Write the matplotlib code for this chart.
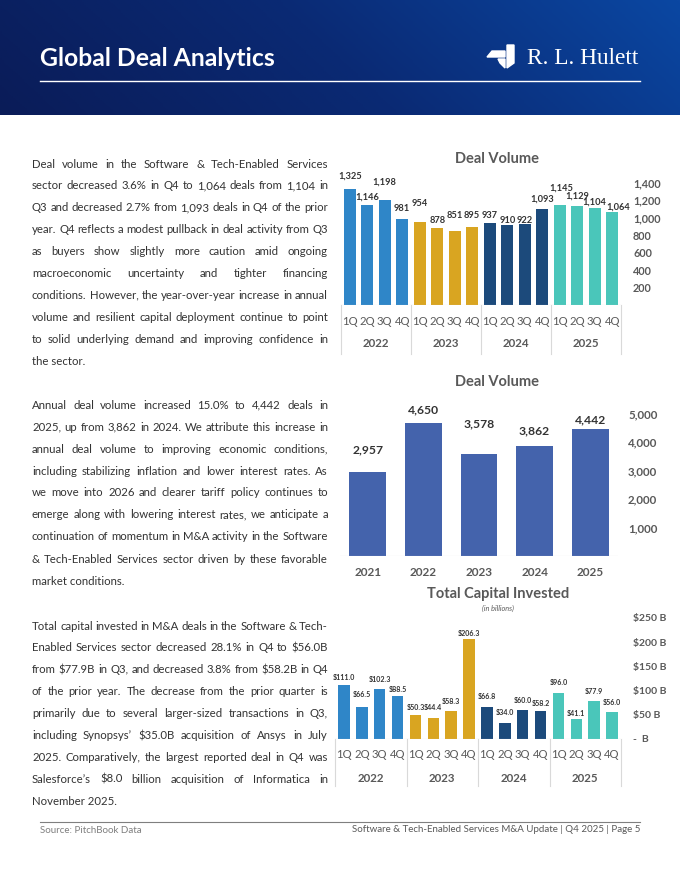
import numpy as np
import matplotlib
matplotlib.use("Agg")
import matplotlib.pyplot as plt
from matplotlib.patches import Polygon
from matplotlib.colors import LinearSegmentedColormap

plt.rcParams["font.family"] = ["Lato", "DejaVu Sans"]

W, H = 680, 880

# === data ===
years = ["2022", "2023", "2024", "2025"]
quarters = ["1Q", "2Q", "3Q", "4Q"]
quarterly_volume = [1325, 1146, 1198, 981, 954, 878, 851, 895,
                    937, 910, 922, 1093, 1145, 1129, 1104, 1064]
annual_years = ["2021", "2022", "2023", "2024", "2025"]
annual_volume = [2957, 4650, 3578, 3862, 4442]
quarterly_capital = [111.0, 66.5, 102.3, 88.5, 50.3, 44.4, 58.3, 206.3,
                     66.8, 34.0, 60.0, 58.2, 96.0, 41.1, 77.9, 56.0]

year_colors = ["#2F86C8", "#D9A521", "#1C4A7B", "#4AC6BA"]
annual_color = "#4463AC"

# label lift above bar top (px), as placed in the source
vol_lift = [13, 8, 18, 11, 18, 8, 15, 11, 8, 5, 4, 10, 17, 10, 6, 5]
vol_shift = [0, 0, 0, 0, 0, 0, 0, 0, 0, 0, 0, 0, 2, 0, 0, 6]
annual_lift = [22, 14, 30, 15, 10]
cap_lift = [8, 12, 10, 7, 7, 10, 9, 6, 10, 10, 9, 7, 10, 6, 10, 9]

para1 = [
    "Deal volume in the Software & Tech-Enabled Services",
    "sector decreased 3.6% in Q4 to 1,064 deals from 1,104 in",
    "Q3 and decreased 2.7% from 1,093 deals in Q4 of the prior",
    "year. Q4 reflects a modest pullback in deal activity from Q3",
    "as buyers show slightly more caution amid ongoing",
    "macroeconomic uncertainty and tighter financing",
    "conditions. However, the year-over-year increase in annual",
    "volume and resilient capital deployment continue to point",
    "to solid underlying demand and improving confidence in",
    "the sector.",
]
para2 = [
    "Annual deal volume increased 15.0% to 4,442 deals in",
    "2025, up from 3,862 in 2024. We attribute this increase in",
    "annual deal volume to improving economic conditions,",
    "including stabilizing inflation and lower interest rates. As",
    "we move into 2026 and clearer tariff policy continues to",
    "emerge along with lowering interest rates, we anticipate a",
    "continuation of momentum in M&A activity in the Software",
    "& Tech-Enabled Services sector driven by these favorable",
    "market conditions.",
]
para3 = [
    "Total capital invested in M&A deals in the Software & Tech-",
    "Enabled Services sector decreased 28.1% in Q4 to $56.0B",
    "from $77.9B in Q3, and decreased 3.8% from $58.2B in Q4",
    "of the prior year. The decrease from the prior quarter is",
    "primarily due to several larger-sized transactions in Q3,",
    "including Synopsys’ $35.0B acquisition of Ansys in July",
    "2025. Comparatively, the largest reported deal in Q4 was",
    "Salesforce’s $8.0 billion acquisition of Informatica in",
    "November 2025.",
]

TXT = "#333333"
GREY = "#595959"
LINE = "#D9D9D9"

fig = plt.figure(figsize=(W / 100, H / 100), dpi=100)
fig.patch.set_facecolor("white")


def ftext(x, y, s, **kw):
    return fig.text(x / W, 1 - y / H, s, parse_math=False, **kw)


def px_axes(left, top, right, bottom):
    return fig.add_axes([left / W, 1 - bottom / H, (right - left) / W, (bottom - top) / H])


def fline(x0, x1, y, **kw):
    fig.add_artist(plt.Line2D([x0 / W, x1 / W], [1 - y / H, 1 - y / H], **kw))


# === header ===
hdr = fig.add_axes([0, 1 - 115 / H, 1, 115 / H])
gx = np.linspace(0, 1, 300)
gy = np.linspace(0, 1, 60)
grad = gx[None, :] * 0.85 + gy[:, None] * 0.15
cmap = LinearSegmentedColormap.from_list("hdr", ["#0A1C58", "#0A2A74", "#0B47A2"])
hdr.imshow(grad, aspect="auto", cmap=cmap, extent=[0, 1, 0, 1], origin="lower")
hdr.axis("off")

ftext(40, 58, "Global Deal Analytics", fontsize=17.8, fontweight="bold",
      color="white", va="center", ha="left")
fline(40, 640, 81, color="white", lw=1.0)

# logo mark
for pts in [
    [(507, 45), (514, 45), (514, 63), (507, 68)],
    [(487, 57), (492, 51), (505, 51), (505, 57)],
    [(498, 59), (505, 59), (505, 68), (500, 63)],
]:
    fig.add_artist(Polygon([(px / W, 1 - py / H) for px, py in pts],
                           closed=True, color="white", transform=fig.transFigure))
ftext(527, 58, "R. L. Hulett", family=["Liberation Serif", "DejaVu Serif"],
      fontsize=16.8, color="white", va="center", ha="left")


# === body text ===
def justify(lines, x0, x1, y0, step):
    r = fig.canvas.get_renderer()
    for i, line in enumerate(lines):
        y = y0 + i * step
        if i == len(lines) - 1:
            ftext(x0, y, line, fontsize=8.2, color=TXT, va="center", ha="left")
            continue
        words = line.split(" ")
        objs = [ftext(0, y, w, fontsize=8.2, color=TXT, va="center", ha="left") for w in words]
        widths = [o.get_window_extent(r).width for o in objs]
        gap = (x1 - x0 - sum(widths)) / (len(words) - 1)
        xx = x0
        for o, w in zip(objs, widths):
            o.set_x(xx / W)
            xx += w + gap


justify(para1, 32, 328, 164, 21.9)
justify(para2, 32, 328, 405, 22.0)
justify(para3, 32, 328, 626, 21.9)


# === chart helpers ===
def clean(ax):
    for s in ax.spines.values():
        s.set_visible(False)
    ax.patch.set_alpha(0)
    ax.set_xticks([])


def quarter_axis(ax, top, bottom, q_y, yr_y, end_y):
    h = bottom - top
    frac = lambda ypx: (bottom - ypx) / h
    tr = ax.get_xaxis_transform()
    for g in range(5):
        xg = g * 4 - 0.5
        ax.plot([xg, xg], [0, frac(end_y)], transform=tr, color=LINE, lw=0.8, clip_on=False)
    for i in range(16):
        ax.text(i, frac(q_y), quarters[i % 4], transform=tr, ha="center", va="center",
                fontsize=8.2, color=GREY)
    for g, yr in enumerate(years):
        ax.text(g * 4 + 1.5, frac(yr_y), yr, transform=tr, ha="center", va="center",
                fontsize=8.3, fontweight="bold", color=GREY)


def right_ticks(ax, ticks, labels, pad_px, size):
    ax.yaxis.tick_right()
    ax.set_yticks(ticks)
    ax.set_yticklabels(labels)
    ax.tick_params(axis="y", length=0, pad=pad_px * 0.72, labelsize=size, labelcolor=GREY)
    for lab in ax.get_yticklabels():
        lab.set_fontweight("bold")


# === chart 1: quarterly deal volume ===
ax1 = px_axes(341, 165, 621, 305)
xq = np.arange(len(quarterly_volume))
qcolors = [year_colors[i // 4] for i in xq]
ax1.bar(xq, quarterly_volume, width=0.68, color=qcolors)
ax1.set_xlim(-0.5, 15.5)
ax1.set_ylim(0, 1600)
clean(ax1)
right_ticks(ax1, range(200, 1401, 200), [f"{v:,}" for v in range(200, 1401, 200)], 12, 7.8)
ax1.axhline(0, color=LINE, lw=0.8)
for i, (v, lift, sh) in enumerate(zip(quarterly_volume, vol_lift, vol_shift)):
    ax1.annotate(f"{v:,}", (i, v), xytext=(sh * 0.72, lift * 0.72), textcoords="offset points",
                 ha="center", va="center", fontsize=6.7, fontweight="bold", color=TXT,
                 annotation_clip=False)
quarter_axis(ax1, 165, 305, 321, 343, 354)
ftext(497, 159, "Deal Volume", fontsize=10.5, fontweight="bold", color=GREY, ha="center", va="center")

# === chart 2: annual deal volume ===
ax2 = px_axes(340, 400, 618, 556)
xa = np.arange(len(annual_volume))
ax2.bar(xa, annual_volume, width=0.66, color=annual_color)
ax2.set_xlim(-0.5, 4.5)
ax2.set_ylim(0, 156 / 28.5 * 1000)
clean(ax2)
right_ticks(ax2, range(1000, 5001, 1000), [f"{v:,}" for v in range(1000, 5001, 1000)], 10, 8.3)
ax2.axhline(0, color=LINE, lw=0.8)
tr2 = ax2.get_xaxis_transform()
for i, (yr, v, lift) in enumerate(zip(annual_years, annual_volume, annual_lift)):
    ax2.annotate(f"{v:,}", (i, v), xytext=(0, lift * 0.72), textcoords="offset points",
                 ha="center", va="center", fontsize=8.7, fontweight="bold", color=TXT,
                 annotation_clip=False)
    ax2.text(i, -16 / 156, yr, transform=tr2, ha="center", va="center",
             fontsize=8.5, fontweight="bold", color=GREY)
ftext(497, 382, "Deal Volume", fontsize=10.5, fontweight="bold", color=GREY, ha="center", va="center")

# === chart 3: total capital invested ===
ax3 = px_axes(335, 613, 621, 739)
ax3.bar(xq, quarterly_capital, width=0.65, color=qcolors)
ax3.set_xlim(-0.5, 15.5)
ax3.set_ylim(0, 126 / 0.484)
clean(ax3)
cap_ticks = list(range(0, 251, 50))
cap_labels = ["-  B" if v == 0 else f"${v} B" for v in cap_ticks]
right_ticks(ax3, cap_ticks, cap_labels, 12, 7.5)
for lab in ax3.get_yticklabels():
    lab.set_parse_math(False)
ax3.axhline(0, color=LINE, lw=0.8)
for i, (v, lift) in enumerate(zip(quarterly_capital, cap_lift)):
    ax3.annotate(f"${v:.1f}", (i, v), xytext=(0, lift * 0.72), textcoords="offset points",
                 ha="center", va="center", fontsize=5.1, fontweight="bold", color=TXT,
                 annotation_clip=False, parse_math=False)
quarter_axis(ax3, 613, 739, 755, 778, 786)
ftext(498, 594, "Total Capital Invested", fontsize=10.5, fontweight="bold", color=GREY,
      ha="center", va="center")
ftext(498, 608, "(in billions)", fontsize=5.2, style="italic", color=GREY, ha="center", va="center")

# === footer ===
fline(40, 640, 822, color="#7F7F7F", lw=0.8)
ftext(40, 830, "Source: PitchBook Data", fontsize=7, color="#7F7F7F", ha="left", va="center")
ftext(640, 829, "Software & Tech-Enabled Services M&A Update | Q4 2025 | Page 5",
      fontsize=7, color=GREY, ha="right", va="center")

fig.savefig("out.png", dpi=100)
plt.close(fig)
